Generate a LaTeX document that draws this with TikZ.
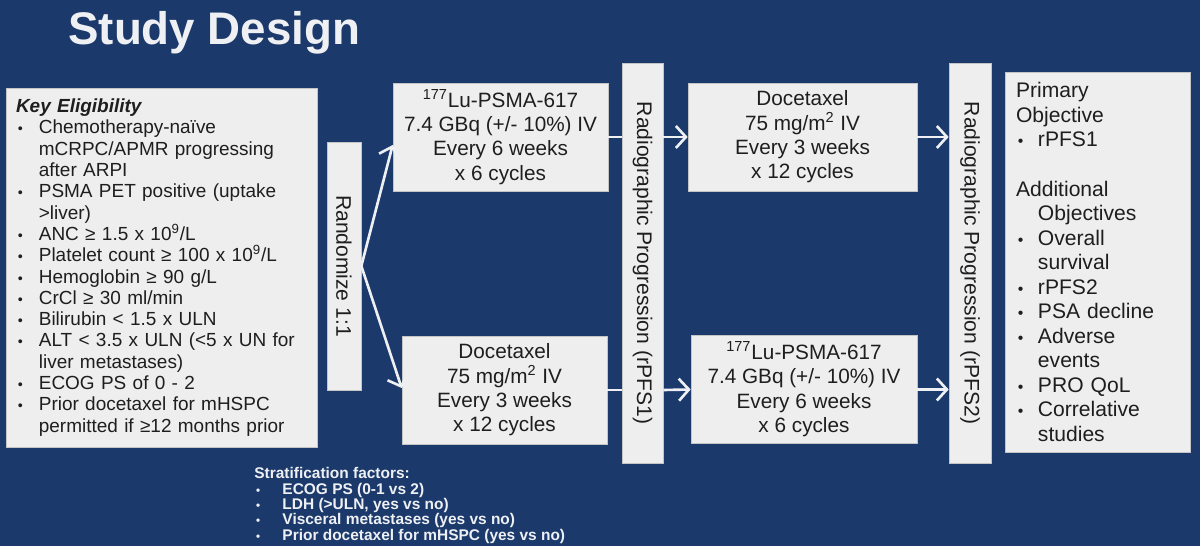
\documentclass[tikz,border=0pt]{standalone}
\usepackage{fontspec}
\setmainfont{Liberation Sans}
\usepackage{graphicx}
\usetikzlibrary{positioning, arrows.meta, calc}
\definecolor{slidebg}{HTML}{1B3A6B}
\definecolor{boxfill}{HTML}{EEEEEE}
\definecolor{boxline}{HTML}{C4C4C4}
\definecolor{boxtext}{HTML}{1E1E1E}
\definecolor{slidetext}{HTML}{EEF0F4}
\newcommand{\bitem}[1][13pt]{\makebox[#1][l]{\hspace{1pt}\scalebox{0.75}{\textbullet}}}
\newcommand{\bcont}[1][13pt]{\hspace*{#1}}
\tikzset{
  infobox/.style={rectangle, draw=boxline, fill=boxfill, text=boxtext, align=left, inner ysep=0pt},
  armbox/.style={rectangle, draw=boxline, fill=boxfill, text=boxtext, align=center, minimum height=2.16cm, font=\fontsize{11.8}{13.9}\selectfont},
  barbox/.style={rectangle, draw=boxline, fill=boxfill, text=boxtext, inner sep=0pt, font=\fontsize{12}{14}\selectfont},
  arrow/.style={draw=slidetext, line width=1.5pt, -{Straight Barb[length=2mm,width=4.4mm]}},
  link/.style={draw=slidetext, line width=1.5pt}
}
\begin{document}
\begin{tikzpicture}[x=0.02cm, y=-0.02cm]
    \path[use as bounding box, fill=slidebg] (0,0) rectangle (1200,546);

    \node (title) [anchor=base west, inner sep=0pt, text=slidetext, font=\fontsize{26}{30}\selectfont\bfseries] at (68,45) {Study Design};

    % Eligibility
    \node (elig) [infobox, minimum width=6.22cm, minimum height=7.18cm, inner xsep=0.2cm, text width=5.82cm, font=\fontsize{10.8}{12.13}\selectfont] at (161.5,267.5) {%
      \textbf{\textit{Key Eligibility}}\\
      \bitem Chemotherapy-naïve\\
      \bcont mCRPC/APMR progressing\\
      \bcont after ARPI\\
      \bitem PSMA PET positive (uptake\\
      \bcont >liver)\\
      \bitem ANC ≥ 1.5 x 10\textsuperscript{9}/L\\
      \bitem Platelet count ≥ 100 x 10\textsuperscript{9}/L\\
      \bitem Hemoglobin ≥ 90 g/L\\
      \bitem CrCl ≥ 30 ml/min\\
      \bitem Bilirubin < 1.5 x ULN\\
      \bitem ALT < 3.5 x ULN (<5 x UN for\\
      \bcont liver metastases)\\
      \bitem ECOG PS of 0 - 2\\
      \bitem Prior docetaxel for mHSPC\\
      \bcont permitted if ≥12 months prior};

    \node (rand) [barbox, minimum width=0.68cm, minimum height=4.96cm] at (344,266) {\rotatebox{-90}{Randomize 1:1}};

    % Arms, first period
    \node (luA) [armbox, minimum width=4.3cm] at (500.5,137) {\textsuperscript{177}Lu-PSMA-617\\7.4 GBq (+/- 10\%) IV\\Every 6 weeks\\x 6 cycles};
    \node (docA) [armbox, minimum width=4.1cm] at (504.5,390) {Docetaxel\\75 mg/m\textsuperscript{2} IV\\Every 3 weeks\\x 12 cycles};

    \node (pfs1) [barbox, minimum width=0.82cm, minimum height=8cm] at (642.5,263) {\rotatebox{-90}{Radiographic Progression (rPFS1)}};

    % Arms, after crossover
    \node (docB) [armbox, minimum width=4.58cm] at (802.5,137) {Docetaxel\\75 mg/m\textsuperscript{2} IV\\Every 3 weeks\\x 12 cycles};
    \node (luB) [armbox, minimum width=4.52cm] at (804,389.5) {\textsuperscript{177}Lu-PSMA-617\\7.4 GBq (+/- 10\%) IV\\Every 6 weeks\\x 6 cycles};

    \node (pfs2) [barbox, minimum width=0.84cm, minimum height=8cm] at (970,263) {\rotatebox{-90}{Radiographic Progression (rPFS2)}};

    % Objectives
    \node (obj) [infobox, minimum width=3.7cm, minimum height=7.6cm, inner xsep=0.22cm, text width=3.26cm, font=\fontsize{12}{13.95}\selectfont] at (1097.5,262) {%
      Primary\\
      Objective\\
      \bitem[12.5pt]rPFS1\\[13.95pt]
      Additional\\
      \bcont[12.5pt]Objectives\\
      \bitem[12.5pt]Overall\\
      \bcont[12.5pt]survival\\
      \bitem[12.5pt]rPFS2\\
      \bitem[12.5pt]PSA decline\\
      \bitem[12.5pt]Adverse\\
      \bcont[12.5pt]events\\
      \bitem[12.5pt]PRO QoL\\
      \bitem[12.5pt]Correlative\\
      \bcont[12.5pt]studies};

    \node (strat) [anchor=north west, inner sep=0pt, align=left, text=slidetext, font=\fontsize{8.8}{8.8}\selectfont\bfseries] at (254,467) {%
      Stratification factors:\\
      \bitem[14pt]\hspace{2pt}ECOG PS (0-1 vs 2)\\
      \bitem[14pt]\hspace{2pt}LDH (>ULN, yes vs no)\\
      \bitem[14pt]\hspace{2pt}Visceral metastases (yes vs no)\\
      \bitem[14pt]\hspace{2pt}Prior docetaxel for mHSPC (yes vs no)};

    % Randomisation
    \draw [arrow] (rand.east) -- ([yshift=-0.16cm]luA.west);
    \draw [arrow] (rand.east) -- ([yshift=0.04cm]docA.west);

    % Upper arm
    \draw [link] (luA.east) -- (luA.east -| pfs1.west);
    \draw [arrow] (luA.east -| pfs1.east) -- (docB.west);
    \draw [arrow] (docB.east) -- (docB.east -| pfs2.west);

    % Lower arm
    \draw [link] (docA.east) -- (docA.east -| pfs1.west);
    \draw [arrow] (docA.east -| pfs1.east) -- (luB.west);
    \draw [arrow] (luB.east) -- (luB.east -| pfs2.west);

\end{tikzpicture}
\end{document}
